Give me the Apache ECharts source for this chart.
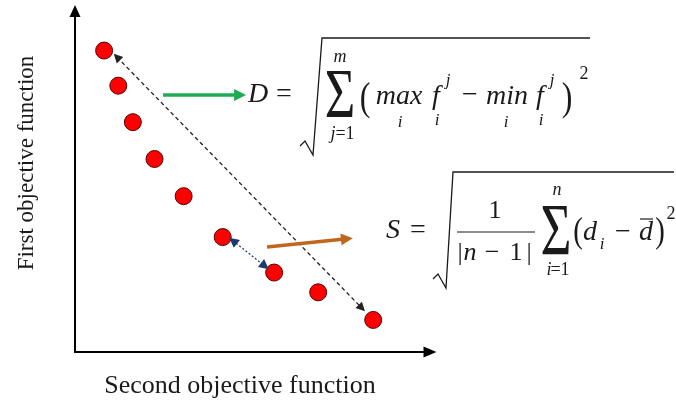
<!DOCTYPE html>
<html>
<head>
<meta charset="utf-8">
<script src="https://cdn.jsdelivr.net/npm/echarts@6/dist/echarts.min.js"></script>
<style>
html, body { margin: 0; background: #fff; }
#main { width: 676px; height: 408px; }
</style>
</head>
<body>
<div id="main"></div>
<script>
var xLabel = 'Second objective function';
var yLabel = 'First objective function';
// points of the front: second objective (x), first objective (y)
var frontX = [0.82, 1.22, 1.63, 2.24, 3.06, 4.16, 5.61, 6.85, 8.40];
var frontY = [8.84, 7.81, 6.74, 5.66, 4.57, 3.37, 2.33, 1.75, 0.94];
// arrows [from, to], in axis units
var spreadArrow = [[1.18, 8.65], [8.08, 1.29]];
var dArrow = [[2.48, 7.54], [4.65, 7.54]];
var sArrow = [[5.41, 3.08], [7.66, 3.32]];
var gapArrow = [[4.45, 3.26], [5.35, 2.52]];

var myChart = echarts.init(document.getElementById('main'));

var serif = '"Liberation Serif", "Times New Roman", serif';

// 公式文字
function t(str, x, y, size, italic, extra) {
    var el = {
        type: 'text',
        x: x,
        y: y,
        style: {
            text: str,
            font: (italic ? 'italic ' : '') + size + 'px ' + serif,
            fill: '#1a1a1a',
            align: 'center',
            verticalAlign: 'middle',
            textAlign: 'center',
            textVerticalAlign: 'middle'
        }
    };
    if (extra) {
        for (var k in extra) el[k] = extra[k];
    }
    return el;
}

function line(points, w) {
    return {
        type: 'polyline',
        shape: {points: points},
        style: {stroke: '#1a1a1a', lineWidth: w || 1.2, fill: null}
    };
}

var formulaD = [
    t('D', 258, 95, 28, true),
    t('=', 284, 95, 28, false),
    line([[300, 146], [305, 141], [313, 155], [322, 38], [590, 38]], 1.3),
    t('\u03A3', 340, 99, 70, false, {scaleX: 0.75}),
    t('m', 340, 57, 18, true),
    t('j', 333, 134, 18, true),
    t('=1', 345, 134, 18, false),
    t('(', 365, 99, 40, false, {scaleX: 0.8}),
    t('max', 399, 97, 28, true),
    t('i', 400, 123, 17, true),
    t('f', 436, 97, 28, true),
    t('i', 437, 121, 17, true),
    t('j', 448, 81, 17, true),
    t('\u2212', 470, 96, 28, false),
    t('min', 507, 97, 28, true),
    t('i', 506, 123, 17, true),
    t('f', 540, 97, 28, true),
    t('i', 541, 121, 17, true),
    t('j', 552, 81, 17, true),
    t(')', 567, 99, 40, false, {scaleX: 0.8}),
    t('2', 584, 74, 18, false)
];

var formulaS = [
    t('S', 393, 231, 28, true),
    t('=', 418, 231, 28, false),
    line([[433, 279], [438, 274], [446, 288], [453, 172], [674, 172]], 1.3),
    t('1', 495, 211, 26, false),
    line([[457, 232], [535, 232]], 1.2),
    t('|', 460, 253, 26, false),
    t('n', 470, 253, 26, true),
    t('\u2212', 492, 253, 26, false),
    t('1', 516, 253, 26, false),
    t('|', 529, 253, 26, false),
    t('\u03A3', 556, 236, 74, false, {scaleX: 0.72}),
    t('n', 557, 190, 18, true),
    t('i', 549, 270, 18, true),
    t('=1', 560, 270, 18, false),
    t('(', 578, 233, 36, false, {scaleX: 0.8}),
    t('d', 590, 233, 28, true),
    t('i', 602, 245, 17, true),
    t('\u2212', 623, 233, 28, false),
    t('d', 646, 233, 28, true),
    line([[640, 219], [653, 219]], 1.2),
    t(')', 660, 233, 36, false, {scaleX: 0.8}),
    t('2', 671, 214, 18, false)
];

var labels = [
    t(xLabel, 240, 386, 26, false),
    t(yLabel, 27, 163, 23, false, {rotation: Math.PI / 2})
];

function arrow(coords, color, width, type, size) {
    return {
        type: 'lines',
        coordinateSystem: 'cartesian2d',
        symbol: ['none', 'triangle'],
        symbolSize: size,
        z: 3,
        lineStyle: {color: color, width: width, type: type, opacity: 1},
        data: [{coords: coords}]
    };
}

var option = {
    animation: false,
    grid: {left: 75, top: 11, width: 355, height: 341},
    xAxis: {
        type: 'value', min: 0, max: 10,
        axisLine: {show: true, symbol: ['none', 'triangle'], symbolSize: [11, 13], lineStyle: {color: '#000', width: 2}},
        axisTick: {show: false}, axisLabel: {show: false}, splitLine: {show: false}
    },
    yAxis: {
        type: 'value', min: 0, max: 10,
        axisLine: {show: true, symbol: ['none', 'triangle'], symbolSize: [11, 12], lineStyle: {color: '#000', width: 2}},
        axisTick: {show: false}, axisLabel: {show: false}, splitLine: {show: false}
    },
    series: [
        {
            type: 'scatter',
            symbolSize: 17,
            z: 2,
            itemStyle: {color: '#ff0000', borderColor: '#5a0000', borderWidth: 1, opacity: 1},
            data: frontX.map(function (x, i) { return [x, frontY[i]]; })
        },
        (function () {
            var s = arrow(spreadArrow, '#222', 1.3, [4, 3], 9);
            s.symbol = ['triangle', 'triangle'];
            return s;
        })(),
        arrow(dArrow, '#1faa55', 3.5, 'solid', 12),
        arrow(sArrow, '#c0661d', 3.5, 'solid', 12),
        (function () {
            var s = arrow(gapArrow, '#1f3a6e', 1.2, [2, 2], 10);
            s.symbol = ['triangle', 'triangle'];
            return s;
        })()
    ],
    graphic: formulaD.concat(formulaS, labels)
};

myChart.setOption(option);
</script>
</body>
</html>
